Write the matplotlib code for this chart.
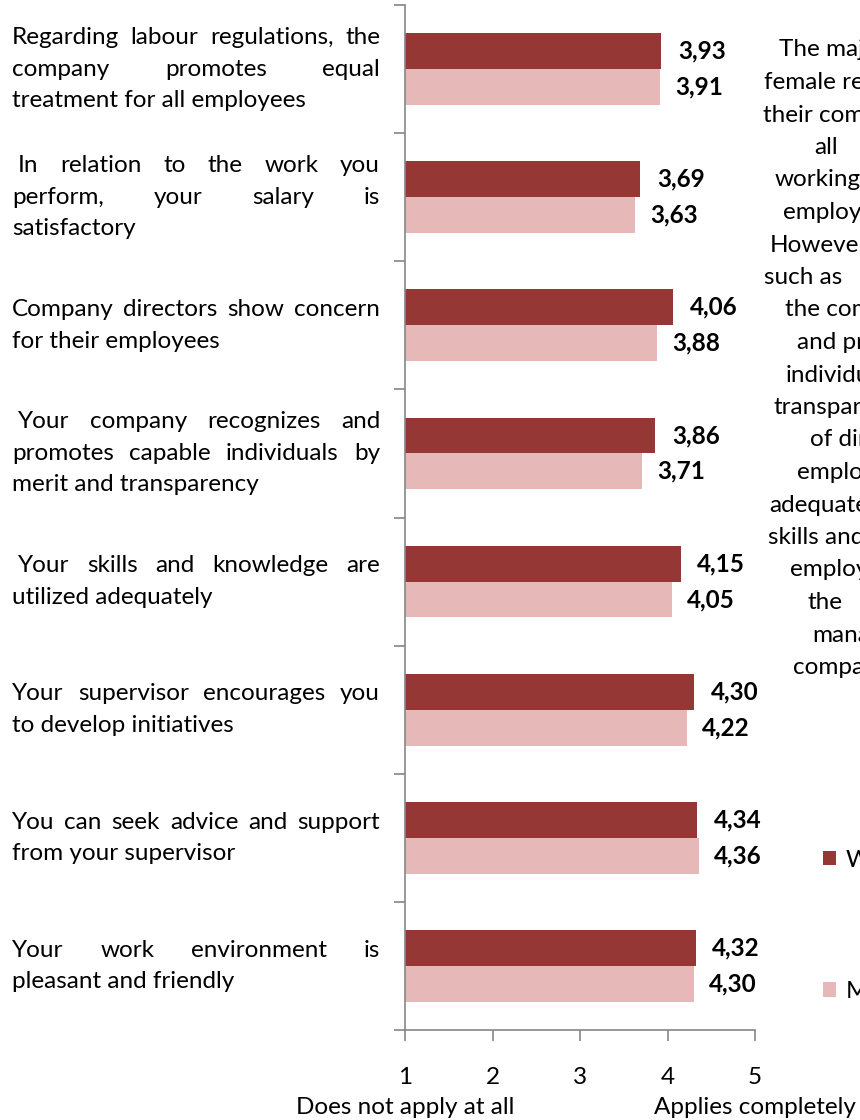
import matplotlib.pyplot as plt
from matplotlib.transforms import blended_transform_factory

plt.rcParams['font.family'] = ['Lato', 'DejaVu Sans']

# category labels, already broken into the lines shown in the chart
labels = [
    ["Regarding labour regulations, the", "company promotes equal", "treatment for all employees"],
    [" In relation to the work you", "perform, your salary is", "satisfactory"],
    ["Company directors show concern", "for their employees"],
    [" Your company recognizes and", "promotes capable individuals by", "merit and transparency"],
    [" Your skills and knowledge are", "utilized adequately"],
    ["Your supervisor encourages you", "to develop initiatives"],
    ["You can seek advice and support", "from your supervisor"],
    ["Your work environment is", "pleasant and friendly"],
]
women = [3.93, 3.69, 4.06, 3.86, 4.15, 4.30, 4.34, 4.32]
men = [3.91, 3.63, 3.88, 3.71, 4.05, 4.22, 4.36, 4.30]
xticks = [1, 2, 3, 4, 5]

# text box on the right, cut off by the picture edge
side_text = ["The majority of", "female respondents", "their company", "all", "working",
             "employees.", "However,", "such as", "the company", "and promotes",
             "individuals", "transparency", "of directors", "employees", "adequately",
             "skills and", "employees", "the", "management", "company"]
side_x = [779, 764, 763, 814, 775, 783, 770, 764, 785, 797,
          786, 773, 810, 797, 769, 768, 790, 807, 812, 793]

DARK = '#953735'
PINK = '#E6B9B8'
GREY = '#868686'
FS = 17.5
W, H = 860, 1120

fig = plt.figure(figsize=(W / 100, H / 100), dpi=100)
ax = fig.add_axes([405 / W, 90 / H, 350 / W, 1025 / H])

y = list(range(len(women)))
bh = 0.28
ax.barh([i - 0.14 for i in y], women, height=bh, color=DARK, label='Women')
ax.barh([i + 0.14 for i in y], men, height=bh, color=PINK, label='Men')

for i in y:
    ax.annotate(f'{women[i]:.2f}'.replace('.', ','), (women[i], i - 0.14),
                xytext=(12, 0), textcoords='offset points', va='center',
                fontsize=FS, fontweight='bold')
    ax.annotate(f'{men[i]:.2f}'.replace('.', ','), (men[i], i + 0.14),
                xytext=(11, 0), textcoords='offset points', va='center',
                fontsize=FS, fontweight='bold')

ax.set_xlim(1, 5)
ax.set_ylim(len(women) - 0.5, -0.5)
ax.set_xticks(xticks)
ax.set_xticklabels([str(t) for t in xticks], fontsize=FS)
ax.set_yticks([i - 0.5 for i in range(len(women) + 1)])
ax.set_yticklabels([])
ax.tick_params(axis='x', length=8, width=1.2, color=GREY, pad=19)
ax.tick_params(axis='y', length=8, width=1.2, color=GREY)
for s in ['top', 'right']:
    ax.spines[s].set_visible(False)
for s in ['left', 'bottom']:
    ax.spines[s].set_color(GREY)
    ax.spines[s].set_linewidth(1.2)

# justified category labels
renderer = fig.canvas.get_renderer()
tr = blended_transform_factory(fig.transFigure, ax.transData)


def text_width(s):
    t = fig.text(0, 0, s, fontsize=FS)
    w = t.get_window_extent(renderer).width
    t.remove()
    return w


space = text_width('a a') - text_width('aa')
x0, x1 = 12, 380
line_step = 31.5 / 128

for i, lines in enumerate(labels):
    n = len(lines)
    for j, line in enumerate(lines):
        yy = i + (j - (n - 1) / 2) * line_step
        start = x0 + (space if line.startswith(' ') else 0)
        if j == n - 1:
            fig.text(start / W, yy, line.strip(), fontsize=FS, va='center', transform=tr)
            continue
        words = line.split()
        widths = [text_width(wd) for wd in words]
        gap = (x1 - start - sum(widths)) / (len(words) - 1)
        x = start
        for wd, wdt in zip(words, widths):
            fig.text(x / W, yy, wd, fontsize=FS, va='center', transform=tr)
            x += wdt + gap

for k, (s, sx) in enumerate(zip(side_text, side_x)):
    fig.text(sx / W, 1 - (50 + k * 32.5) / H, s, fontsize=FS, va='center')

fig.text(405 / W, 1 - 1108 / H, 'Does not apply at all', fontsize=FS, ha='center', va='center')
fig.text(755 / W, 1 - 1107 / H, 'Applies completely', fontsize=FS, ha='center', va='center')

fig.legend(loc='upper left', bbox_to_anchor=(813 / W, 1 - 840 / H), frameon=False,
           fontsize=FS, handlelength=0.55, handleheight=0.55, handletextpad=0.4,
           labelspacing=4.55, borderaxespad=0)

fig.savefig('out.png', dpi=100)
